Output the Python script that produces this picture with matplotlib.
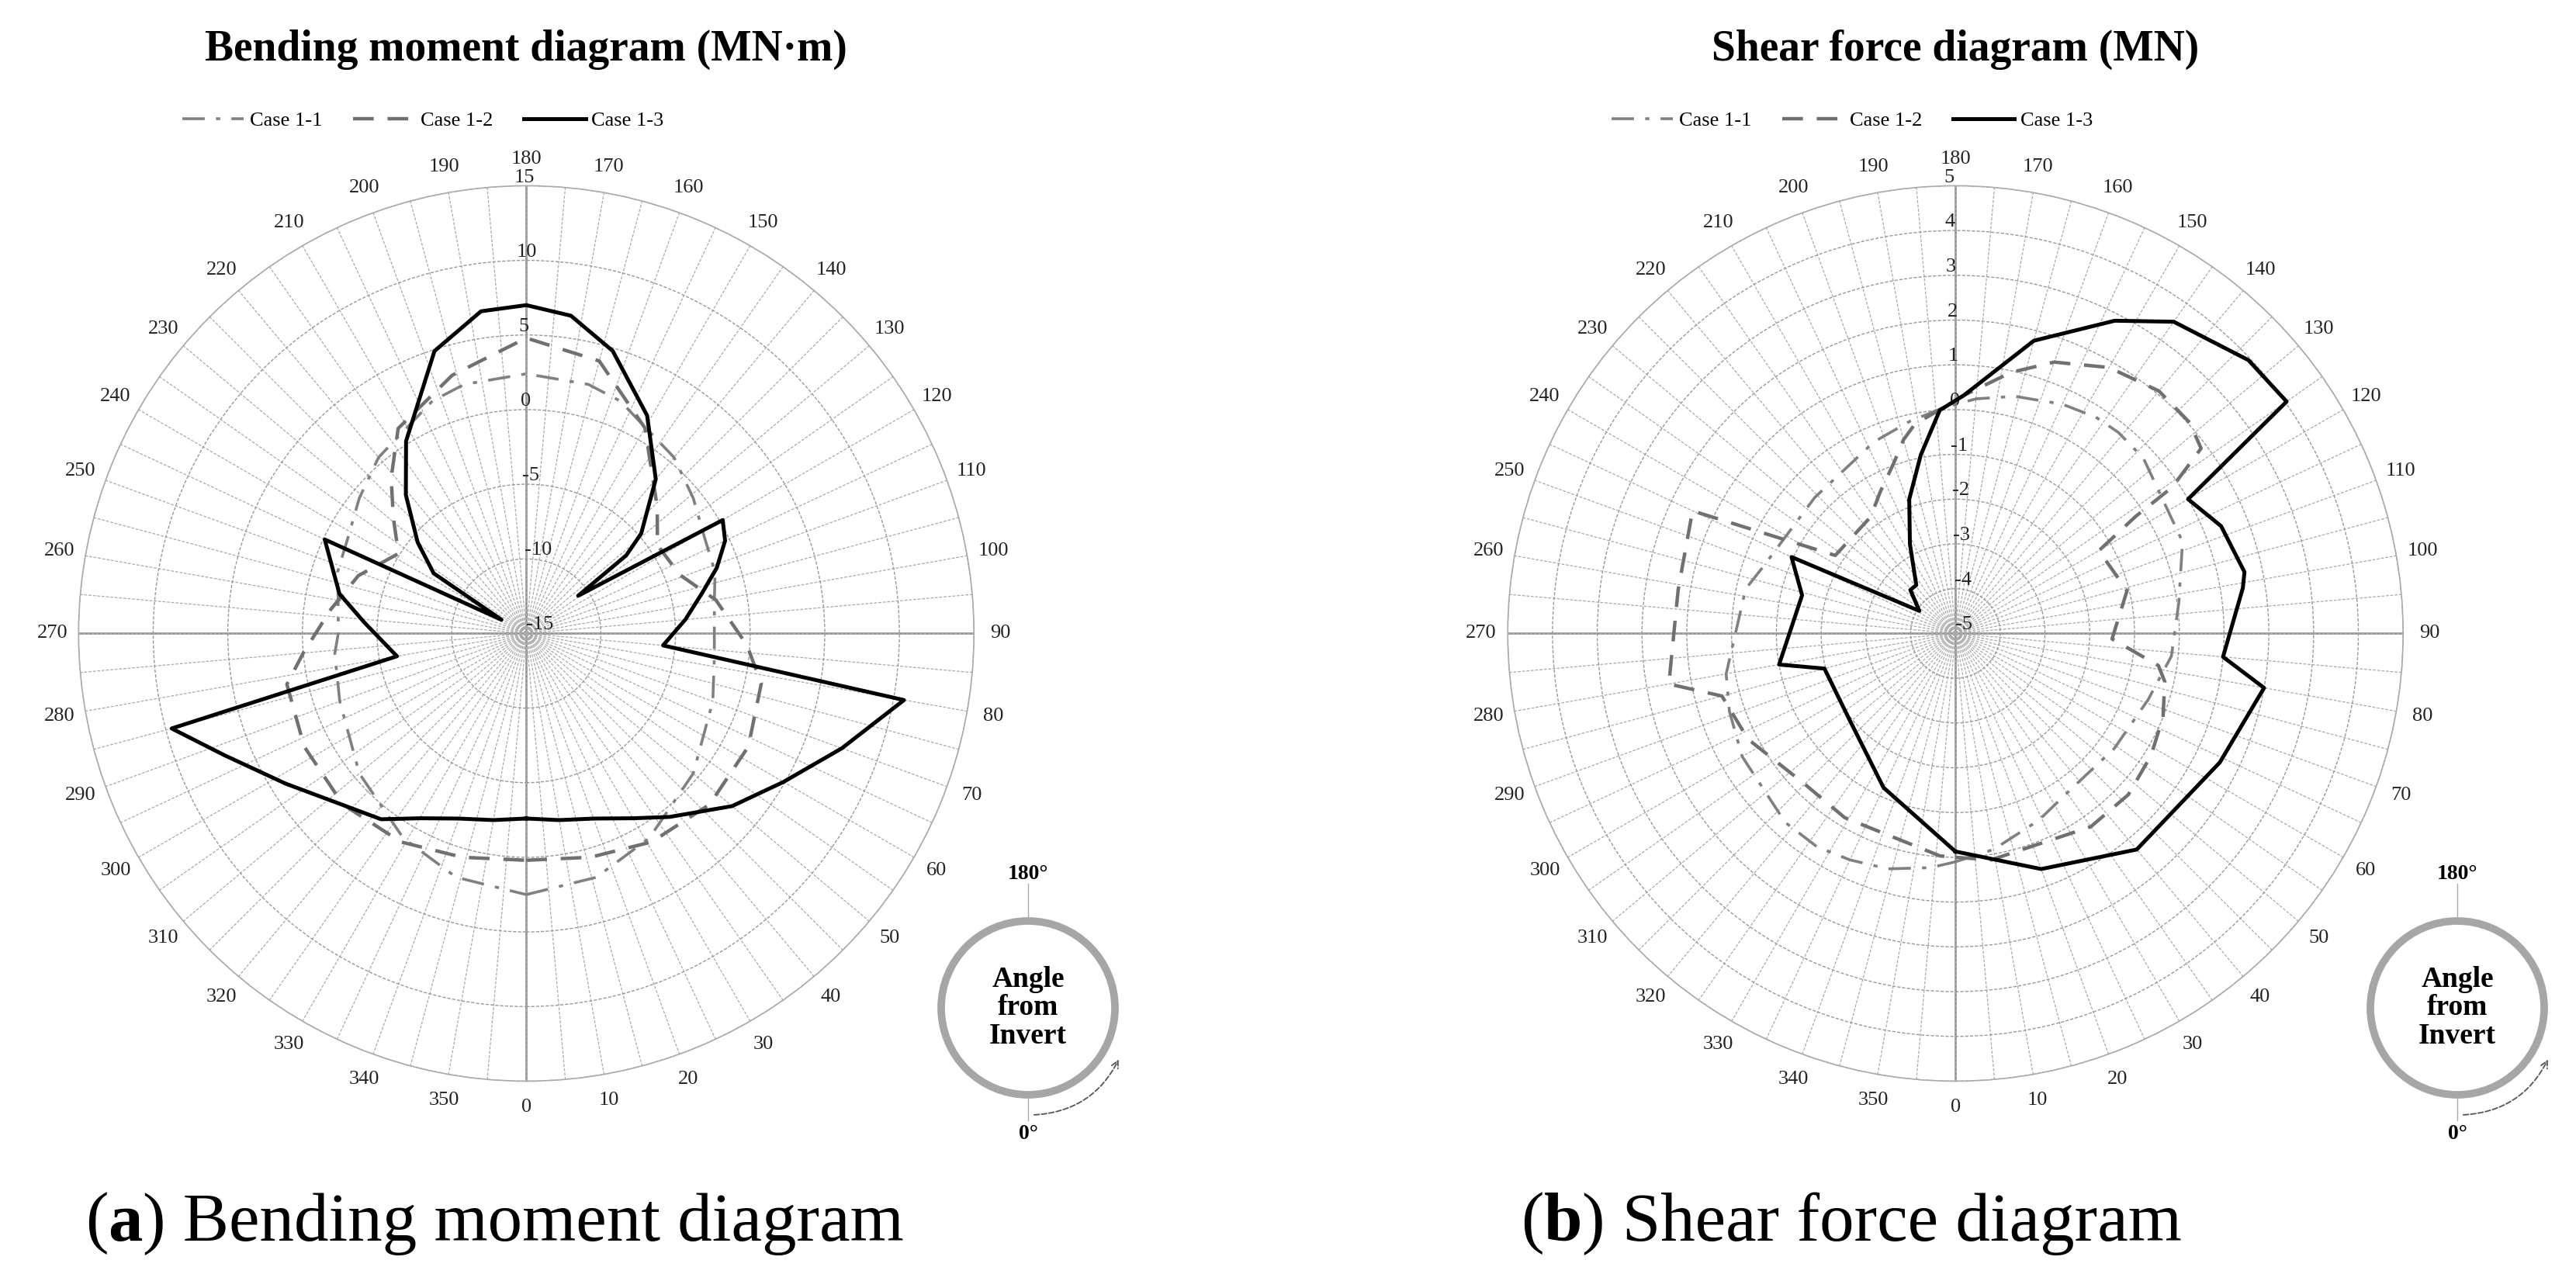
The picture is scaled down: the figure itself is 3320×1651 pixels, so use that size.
import numpy as np
import matplotlib
matplotlib.use("Agg")
import matplotlib.pyplot as plt
from matplotlib.patches import Circle, FancyArrowPatch

# ---------------- data ----------------
# Bending moment (MN·m)
bm_c11_deg = [0, 16, 31, 50, 70, 83, 90, 100, 108, 119, 129, 140, 158, 166, 180, 194, 202, 220, 231, 241, 252, 260, 270, 276, 290, 310, 329, 344, 360]
bm_c11_val = [2.5, 2.0, 1.0, -0.4, -1.7, -2.3, -2.4, -2.2, -1.7, -1.4, -0.6, 0.4, 1.8, 2.2, 2.4, 2.2, 1.8, 0.4, -0.6, -1.4, -1.7, -2.2, -2.4, -2.1, -1.7, -0.4, 1.0, 2.0, 2.5]
bm_c12_deg = [0, 16, 31, 47, 63, 78, 87, 100, 111, 124, 134, 150, 165, 180, 196, 212, 221, 229, 238, 251, 263, 275, 282, 297, 313, 329, 344, 360]
bm_c12_val = [0.2, 0.6, 1.3, 1.8, 1.7, 1.1, -0.2, -2.1, -4.0, -4.4, -2.8, 0.9, 3.9, 4.8, 3.0, 1.2, -1.2, -3.2, -4.9, -3.1, -1.8, 0.0, 1.4, 1.7, 1.8, 1.3, 0.6, 0.2]
bm_c13_deg = [0, 10, 20, 30, 38, 50, 60, 70, 80, 85, 95, 103, 109, 115, 120, 126, 128, 131, 140, 151, 163, 172, 180, 188, 198, 212, 221, 230, 237, 241, 245, 258, 266, 280, 285, 292, 302, 322, 330, 340, 350, 360]
bm_c13_val = [-2.6, -2.3, -1.8, -0.7, 0.6, 3.0, 4.9, 7.5, 10.7, -5.8, -4.3, -2.9, -1.5, -0.3, 0.2, -10.7, -6.5, -4.8, -1.5, 1.7, 4.8, 6.5, 7.0, 6.8, 4.9, 0.2, -2.7, -5.5, -7.6, -13.1, -0.1, -2.2, -4.1, -6.2, 9.6, 6.8, 4.0, 0.8, -0.7, -1.8, -2.3, -2.6]

# Shear force (MN)
sf_c11_deg = [0, 10, 24, 38, 54, 71, 84, 98, 112, 133, 141, 147, 155, 166, 175, 183, 192, 203, 226, 251, 258, 280, 289, 300, 318, 327, 335, 344, 354, 360]
sf_c11_val = [0.1, -0.1, -0.43, -0.68, -0.62, -0.45, -0.15, 0.04, 0.47, 0.74, 0.78, 0.76, 0.65, 0.46, 0.26, 0.05, -0.15, -0.35, -0.63, -0.45, -0.21, 0.2, 0.34, 0.5, 0.68, 0.68, 0.58, 0.47, 0.26, 0.1]
sf_c12_deg = [0, 9, 35, 47, 58, 68, 77, 81, 88, 104, 120, 123, 124, 127, 132, 140, 150, 160, 168, 178, 184, 191, 195, 200, 208, 216, 237, 245, 261, 280, 285, 297, 315, 329, 356, 360]
sf_c12_val = [0.0, 0.12, 0.27, 0.28, 0.15, 0.0, -0.2, -0.41, -1.5, -1.05, -1.3, -0.2, 0.84, 1.87, 2.04, 2.07, 1.86, 1.45, 0.96, 0.32, 0.01, -0.24, -0.52, -0.96, -1.42, -1.78, -1.8, 1.48, 1.27, 1.5, 0.4, 0.2, -0.24, -0.2, -0.02, 0.0]
sf_c13_deg = [0, 20, 40, 64, 80, 85, 99, 102, 112, 120, 125, 133, 145, 153, 165, 178, 184, 191, 199, 207, 219, 226, 238, 245, 256, 280, 285, 309, 335, 360]
sf_c13_val = [-0.13, 0.6, 1.3, 1.57, 2.0, 1.0, 1.5, 1.6, 1.4, 1.0, 4.03, 3.95, 3.5, 2.84, 1.77, 0.32, 0.0, -0.94, -1.83, -2.76, -3.61, -3.6, -4.05, -0.96, -1.47, -1.0, -1.97, -1.95, -1.2, -0.13]

bm_rticks = [-15, -10, -5, 0, 5, 10, 15]
sf_rticks = [-5, -4, -3, -2, -1, 0, 1, 2, 3, 4, 5]
case_labels = ["Case 1-1", "Case 1-2", "Case 1-3"]
titles = ["Bending moment diagram (MN·m)", "Shear force diagram (MN)"]
captions = [("a", " Bending moment diagram"), ("b", " Shear force diagram")]

# ---------------- figure ----------------
plt.rcParams['font.family'] = ['Liberation Serif', 'DejaVu Serif']
fig = plt.figure(figsize=(33.2, 16.51), dpi=100)

styles = [dict(color='#808080', lw=2.6, ls=(0, (8, 4, 1.5, 4))),
          dict(color='#707070', lw=3.2, ls=(0, (6, 4))),
          dict(color='black', lw=3.6, ls='-')]

AX_W, AX_H, AX_B = 0.3476, 0.699, 0.156

def make_panel(left, series, rticks, title):
    ax = fig.add_axes([left, AX_B, AX_W, AX_H], projection='polar')
    ax.set_theta_zero_location('S')
    ax.set_theta_direction(1)
    rmin, rmax = rticks[0], rticks[-1]
    ax.set_ylim(rmin, rmax)
    angs = np.arange(0, 360, 5)
    ax.set_thetagrids(angs, labels=[str(a) if a % 10 == 0 else '' for a in angs], fontsize=19, color='#222')
    ax.tick_params(axis='x', pad=14)
    ax.set_yticks(rticks)
    ax.set_yticklabels([str(t) for t in rticks], fontsize=19, color='#222')
    ax.set_rlabel_position(181.5)
    ax.xaxis.grid(True, color='#aaaaaa', lw=0.9, ls=(0, (3, 1.5)))
    ax.yaxis.grid(True, color='#999999', lw=1.0, ls=(0, (3, 1.5)))
    ax.spines['polar'].set_color('#aaaaaa')
    ax.spines['polar'].set_linewidth(1.2)
    for a in [0, 90, 180, 270]:
        ax.plot(np.radians([a, a]), [rmin, rmax], color='#888888', lw=1.8, zorder=1)
    handles = []
    for (deg, val), st, lab in zip(series, styles, case_labels):
        h, = ax.plot(np.radians(deg), val, label=lab, zorder=3, **st)
        handles.append(h)
    cx = left + AX_W / 2
    fig.text(cx, 0.961, title, ha='center', va='center', fontsize=40, fontweight='bold')
    fig.legend(handles=handles, loc='center', bbox_to_anchor=(cx - 0.04, 0.906), ncol=3, frameon=False,
               fontsize=19, handlelength=3.0, columnspacing=1.5, handletextpad=0.3)
    return ax

ax1 = make_panel(0.0305, [(bm_c11_deg, bm_c11_val), (bm_c12_deg, bm_c12_val), (bm_c13_deg, bm_c13_val)],
                 bm_rticks, titles[0])
ax2 = make_panel(0.5853, [(sf_c11_deg, sf_c11_val), (sf_c12_deg, sf_c12_val), (sf_c13_deg, sf_c13_val)],
                 sf_rticks, titles[1])

overlay = fig.add_axes([0, 0, 1, 1], facecolor='none')
overlay.set_xlim(0, 3320)
overlay.set_ylim(1651, 0)
overlay.axis('off')

for (bold, rest), x0 in zip(captions, [110, 1960]):
    t1 = overlay.text(x0, 1577, "(", fontsize=64, ha='left', va='center')
    fig.canvas.draw()
    r = fig.canvas.get_renderer()
    inv = overlay.transData.inverted()
    bb = t1.get_window_extent(r)
    xa = inv.transform((bb.x1, 0))[0]
    t2 = overlay.text(xa, 1577, bold, fontsize=64, fontweight='bold', ha='left', va='center')
    bb2 = t2.get_window_extent(r)
    xb = inv.transform((bb2.x1, 0))[0]
    overlay.text(xb, 1577, ")" + rest, fontsize=64, ha='left', va='center')

for icx in [1325, 3167]:
    icy = 1299
    overlay.add_patch(Circle((icx, icy), 112, fill=False, ec='#a6a6a6', lw=7))
    overlay.plot([icx, icx], [icy - 160, icy - 115], color='#aaaaaa', lw=1)
    overlay.plot([icx, icx], [icy + 115, icy + 145], color='#aaaaaa', lw=1)
    overlay.text(icx, icy, "Angle\nfrom\nInvert", ha='center', va='center', fontsize=27,
                 fontweight='bold', linespacing=1.05)
    overlay.text(icx, icy - 160, "180°", ha='center', va='bottom', fontsize=20, fontweight='bold')
    overlay.text(icx, icy + 150, "0°", ha='center', va='top', fontsize=20, fontweight='bold')
    arr = FancyArrowPatch((icx + 5, icy + 138), (icx + 118, icy + 64), connectionstyle="arc3,rad=0.3",
                          arrowstyle='->', mutation_scale=16, color='#555555', lw=1.3, ls='--')
    overlay.add_patch(arr)

fig.savefig("out.png", dpi=100)
